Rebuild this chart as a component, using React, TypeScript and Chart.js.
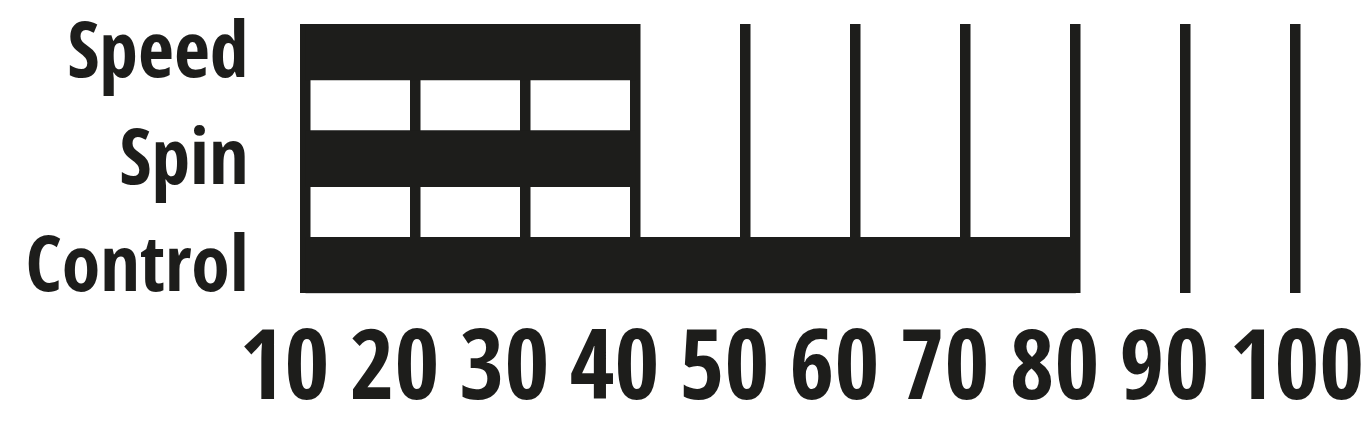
import React, { useEffect, useRef } from "react";
import { Chart, registerables } from "chart.js";

Chart.register(...registerables);

const categories = ["Speed", "Spin", "Control"];
const values = [40, 40, 80];
const xTickValues = [10, 20, 30, 40, 50, 60, 70, 80, 90, 100];

const INK = "#1d1d1b";
const FONT = '"Open Sans Condensed", "Roboto Condensed", "DejaVu Sans Condensed", sans-serif';

export default function App() {
  const ref = useRef<HTMLCanvasElement | null>(null);

  useEffect(() => {
    if (!ref.current) return;
    const chart = new Chart(ref.current, {
      type: "bar",
      data: {
        datasets: [
          {
            data: values.map((v, i) => ({ x: v, y: i })),
            backgroundColor: INK,
            borderWidth: 0,
            barThickness: 56,
          },
        ],
      },
      options: {
        indexAxis: "y",
        animation: false,
        responsive: true,
        maintainAspectRatio: false,
        layout: { padding: { top: 24, right: 70.5, left: 0, bottom: 0 } },
        plugins: { legend: { display: false }, tooltip: { enabled: false } },
        scales: {
          x: {
            type: "linear",
            position: "bottom",
            min: 10,
            max: 100,
            afterBuildTicks: (scale: any) => {
              scale.ticks = xTickValues.map((v) => ({ value: v }));
            },
            afterFit: (scale: any) => {
              scale.height = 127.7;
              scale.paddingLeft = 0;
              scale.paddingRight = 0;
            },
            grid: { display: true, color: INK, lineWidth: 10.5, drawTicks: false },
            border: { display: false },
            ticks: {
              color: INK,
              font: { family: FONT, weight: "bold", size: 97 },
              padding: 22,
              align: "start",
              labelOffset: -66,
              maxRotation: 0,
              autoSkip: false,
              callback: (v: any) => String(v),
            },
          },
          y: {
            type: "linear",
            reverse: true,
            offset: false,
            min: -0.2625,
            max: 2.2625,
            afterBuildTicks: (scale: any) => {
              scale.ticks = categories.map((_, i) => ({ value: i }));
            },
            afterFit: (scale: any) => {
              scale.width = 305.5;
              scale.paddingTop = 0;
              scale.paddingBottom = 0;
            },
            grid: { display: false, offset: false },
            border: { display: false },
            ticks: {
              color: INK,
              font: { family: FONT, weight: "bold", size: 78 },
              padding: 49,
              labelOffset: 5,
              autoSkip: false,
              callback: (v: any) => categories[v as number] ?? "",
            },
          },
        },
      },
    });
    return () => chart.destroy();
  }, []);

  return (
    <div style={{ position: "absolute", left: 0, top: 0, width: 1366, height: 421, background: "#ffffff" }}>
      <canvas ref={ref} />
    </div>
  );
}
